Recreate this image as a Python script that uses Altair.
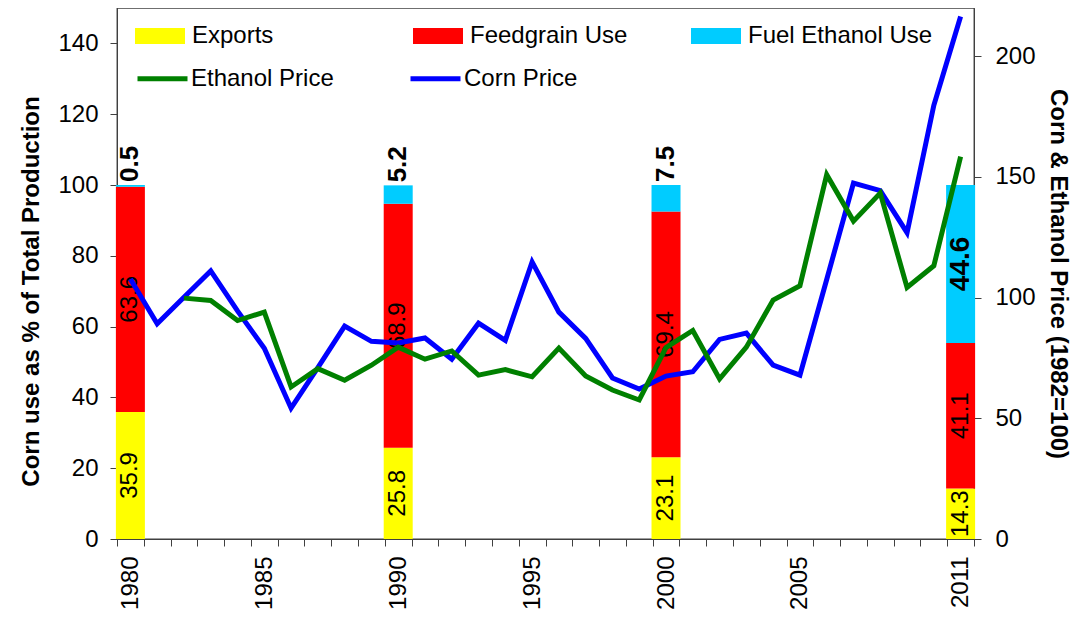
import altair as alt
import pandas as pd

# ---------------- data ----------------
years = list(range(1980, 2012))
bar_years = [1980, 1990, 2000, 2011]
exports = [35.9, 25.8, 23.1, 14.3]
feedgrain = [63.6, 68.9, 69.4, 41.1]
fuel_ethanol = [0.5, 5.2, 7.5, 44.6]

corn_price = [107.7, 89.2, 100.2, 111.1, 94.5, 79.0, 54.2, 71.0, 88.2, 81.9,
              81.2, 83.3, 74.5, 89.4, 82.3, 114.8, 94.0, 83.1, 66.7, 62.1,
              67.5, 69.3, 82.7, 85.3, 72.0, 67.9, 107.5, 147.5, 144.3, 126.9,
              179.7, 216.5]
ethanol_price = [None, None, 99.8, 98.8, 90.5, 94.0, 63.0, 70.6, 65.8, 72.0,
                 79.5, 74.5, 77.9, 67.9, 70.2, 67.2, 79.1, 67.5, 61.7, 57.6,
                 79.3, 86.4, 66.3, 79.5, 99.0, 104.9, 150.9, 131.7, 143.3, 104.2,
                 113.2, 158.4]

x_label_years = [1980, 1985, 1990, 1995, 2000, 2005, 2011]
left_ticks = [0, 20, 40, 60, 80, 100, 120, 140]
right_ticks = [0, 50, 100, 150, 200]

use_names = ["Exports", "Feedgrain Use", "Fuel Ethanol Use"]
use_colors = ["#FFFF00", "#FF0000", "#00CCFF"]
price_names = ["Ethanol Price", "Corn Price"]
price_colors = ["#008000", "#0000FF"]

# ---------------- tables ----------------
rows = []
for i, yr in enumerate(bar_years):
    for k, vals in enumerate([exports, feedgrain, fuel_ethanol]):
        rows.append({"year": yr, "use": use_names[k], "ord": k, "value": vals[i]})
bars_df = pd.DataFrame(rows)

line_rows = []
for yr, c, e in zip(years, corn_price, ethanol_price):
    if e is not None:
        line_rows.append({"year": yr, "series": "Ethanol Price", "price": e})
    line_rows.append({"year": yr, "series": "Corn Price", "price": c})
lines_df = pd.DataFrame(line_rows)

FONT = "Liberation Sans"
AXC = "#404040"

label_expr = "indexof(" + str(x_label_years) + ", datum.value) >= 0 ? datum.label : ''"

x_enc = alt.X(
    "year:O",
    scale=alt.Scale(domain=years, paddingInner=0, paddingOuter=0),
    axis=alt.Axis(
        title=None, labelAngle=-90, labelFontSize=24, labelExpr=label_expr,
        tickBand="extent", tickSize=7, labelPadding=10, labelOverlap=False,
        labelFlush=False, domainColor=AXC, tickColor=AXC, labelColor="#000000",
    ),
)

left_scale = alt.Scale(domain=[0, 150], nice=False)
left_axis = alt.Axis(
    title="Corn use as % of Total Production", values=left_ticks,
    titleFontSize=24, titleFontWeight="bold", titlePadding=14, titleY=283,
    labelFontSize=24, tickSize=7, labelPadding=12, grid=False,
    domainColor=AXC, tickColor=AXC, labelColor="#000000", titleColor="#000000",
)


def y_left(field, stack=None):
    if stack is None:
        return alt.Y(field, scale=left_scale, axis=left_axis)
    return alt.Y(field, scale=left_scale, axis=left_axis, stack=stack)


bars = alt.Chart(bars_df).mark_bar(size=29).encode(
    x=x_enc,
    y=y_left("value:Q", stack="zero"),
    fill=alt.Fill(
        "use:N",
        scale=alt.Scale(domain=use_names, range=use_colors),
        legend=alt.Legend(
            title=None, orient="none", legendX=18, legendY=3,
            direction="horizontal", columns=3, gridAlign="all", columnPadding=36,
            symbolType="M-1,-0.32L1,-0.32L1,0.32L-1,0.32Z", symbolSize=2500,
            symbolStrokeWidth=0, symbolOpacity=1, labelFontSize=24, labelOffset=7,
            labelColor="#000000", padding=0, labelLimit=400,
        ),
    ),
    order=alt.Order("ord:Q"),
)

lab_base = alt.Chart(bars_df).transform_stack(
    stack="value", groupby=["year"], as_=["v0", "v1"],
    sort=[alt.SortField("ord", order="ascending")],
).transform_calculate(mid="(datum.v0 + datum.v1) / 2")

labels_inner = lab_base.transform_filter("datum.ord < 2").mark_text(
    angle=270, fontSize=24, color="#000000", align="center", baseline="middle"
).encode(x=x_enc, y=y_left("mid:Q"), text=alt.Text("value:Q", format=".1f"))

labels_fuel_in = lab_base.transform_filter("datum.ord == 2 && datum.value >= 20").mark_text(
    angle=270, fontSize=28, fontWeight="bold", color="#000000", align="center", baseline="middle"
).encode(x=x_enc, y=y_left("mid:Q"), text=alt.Text("value:Q", format=".1f"))

labels_fuel_top = lab_base.transform_filter("datum.ord == 2 && datum.value < 20").mark_text(
    angle=270, fontSize=26, fontWeight="bold", color="#000000", align="left",
    baseline="middle", dx=3
).encode(x=x_enc, y=y_left("v1:Q"), text=alt.Text("value:Q", format=".1f"))

left_layer = alt.layer(bars, labels_inner, labels_fuel_in, labels_fuel_top)

lines = alt.Chart(lines_df).mark_line(strokeWidth=5).encode(
    x=x_enc,
    y=alt.Y(
        "price:Q",
        scale=alt.Scale(domain=[0, 220], nice=False),
        axis=alt.Axis(
            title="Corn & Ethanol Price (1982=100)", orient="right", values=right_ticks,
            titleFontSize=24, titleFontWeight="bold", titlePadding=10,
            labelFontSize=24, tickSize=7, labelPadding=14, grid=False,
            domainColor=AXC, tickColor=AXC, labelColor="#000000", titleColor="#000000",
        ),
    ),
    stroke=alt.Stroke(
        "series:N",
        scale=alt.Scale(domain=price_names, range=price_colors),
        legend=alt.Legend(
            title=None, orient="none", legendX=18, legendY=43,
            direction="horizontal", columns=3, gridAlign="all", columnPadding=66,
            symbolType="stroke", symbolSize=2500, symbolStrokeWidth=5,
            labelFontSize=24, labelOffset=1, labelColor="#000000", padding=0,
            labelLimit=400,
        ),
    ),
    order=alt.Order("year:O"),
)

chart = alt.layer(left_layer, lines).resolve_scale(
    y="independent"
).properties(
    width=857, height=531,
    autosize=alt.AutoSizeParams(type="none"),
    padding={"left": 109, "top": 0, "right": 100, "bottom": 72},
).configure(font=FONT).configure_view(stroke=AXC, strokeWidth=1.3)

chart.save("out.html", embed_options={"renderer": "svg", "actions": False})
